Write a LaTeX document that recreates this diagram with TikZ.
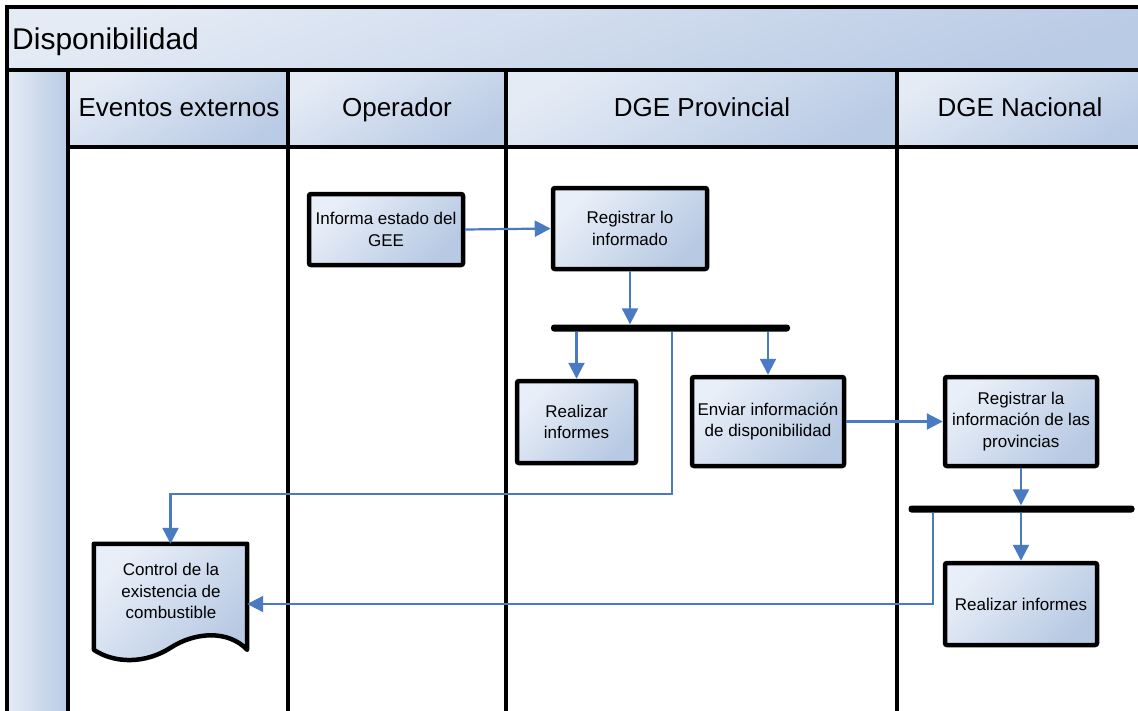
\documentclass[tikz,border=0pt]{standalone}
\usepackage{fontspec}
\setmainfont{Liberation Sans}
\usetikzlibrary{arrows.meta,calc}

\definecolor{boxlight}{HTML}{E9EFF8}
\definecolor{boxdark}{HTML}{B7C9E3}
\definecolor{headlight}{HTML}{E4EBF5}
\definecolor{headdark}{HTML}{BACBE5}
\definecolor{flowblue}{HTML}{4A7BC2}

\tikzset{
  frameline/.style={line width=4pt, line cap=rect},
  headcell/.style={top color=headlight, bottom color=headdark, shading angle=30},
  headtext/.style={font=\fontsize{26}{30}\selectfont, anchor=base},
  proc/.style={draw=black, line width=4.5pt, rounded corners=2pt,
    top color=boxlight, bottom color=boxdark, shading angle=45,
    align=center, inner sep=0pt, font=\fontsize{17}{21.5}\selectfont},
  syncbar/.style={fill=black, rounded corners=3pt, inner sep=0pt, minimum height=7pt},
  flow/.style={draw=flowblue, line width=2.2pt, -{Triangle[length=16pt,width=16pt]}},
}

\begin{document}
\begin{tikzpicture}[x=1pt,y=-1pt]
\useasboundingbox (0,0) rectangle (1138,710);

% pool title bar
\shade[top color=headlight, bottom color=headdark, shading angle=20] (7,7) rectangle (1140,70);
\node[font=\fontsize{30}{34}\selectfont, anchor=base west, inner sep=0pt] (pooltitle) at (12,49) {Disponibilidad};

% lane headers and left strip
\shade[left color=headlight, right color=headdark] (7,70) rectangle (68,712);
\shade[headcell] (68,70) rectangle (288,147);
\shade[headcell] (288,70) rectangle (506,147);
\shade[headcell] (506,70) rectangle (897,147);
\shade[headcell] (897,70) rectangle (1140,147);

\node[headtext] (lane1) at (179,116) {Eventos externos};
\node[headtext] (lane2) at (397,116) {Operador};
\node[headtext] (lane3) at (702,116) {DGE Provincial};
\node[headtext] (lane4) at (1020,116) {DGE Nacional};

% frame and lane separators
\draw[frameline] (1142,7) -- (7,7) -- (7,714);
\draw[frameline] (7,70) -- (1142,70);
\draw[frameline] (68,147) -- (1142,147);
\draw[frameline] (68,70) -- (68,714);
\draw[frameline] (288,70) -- (288,714);
\draw[frameline] (506,70) -- (506,714);
\draw[frameline] (897,70) -- (897,714);

% activities
\node[proc, minimum width=154, minimum height=71] (informa) at (386,229.5) {Informa estado del\\GEE};
\node[proc, minimum width=154, minimum height=81] (registrar) at (630,228.5) {Registrar lo\\informado};
\node[proc, minimum width=119, minimum height=82] (realizarA) at (576.5,422) {Realizar\\informes};
\node[proc, minimum width=152, minimum height=89] (enviar) at (768,421.5) {Enviar información\\de disponibilidad};
\node[proc, minimum width=152, minimum height=89] (registrarN) at (1021,421.5) {Registrar la\\información de las\\provincias};
\node[proc, minimum width=152, minimum height=82] (realizarB) at (1021,604) {Realizar informes};

% synchronisation bars
\node[syncbar, minimum width=239] (bar1) at (670.5,328) {};
\node[syncbar, minimum width=226] (bar2) at (1021.5,509) {};

% document shape
\node[minimum width=153, minimum height=120, inner sep=0pt] (doc) at (170.5,604) {};
\draw[line width=4.5pt, line join=round, top color=boxlight, bottom color=boxdark, shading angle=45]
  (doc.north west) -- (doc.north east) -- ($(doc.north east)+(0,106)$)
  .. controls ($(doc.north east)+(-19,86)$) and ($(doc.north east)+(-52,88)$) .. ($(doc.north)+(0,104)$)
  .. controls ($(doc.north)+(-25,120)$) and ($(doc.north west)+(21,120)$) .. ($(doc.north west)+(0,106)$)
  -- cycle;
\node[align=center, font=\fontsize{17}{21.5}\selectfont] (doctext) at (171,591) {Control de la\\existencia de\\combustible};

% flows
\draw[flow] (informa.east) -- (registrar.west);
\draw[flow] (registrar.south) -- (registrar.south |- bar1.north);
\draw[flow] (realizarA.north |- bar1.south) -- (realizarA.north);
\draw[flow] (enviar.north |- bar1.south) -- (enviar.north);
\draw[flow] ([xshift=121pt]bar1.south west) -- ++(0,162) -| (doc.north);
\draw[flow] (enviar.east) -- (registrarN.west);
\draw[flow] (registrarN.south) -- (registrarN.south |- bar2.north);
\draw[flow] (realizarB.north |- bar2.south) -- (realizarB.north);
\draw[flow] ([xshift=25pt]bar2.south west) |- (doc.east);
\end{tikzpicture}
\end{document}
